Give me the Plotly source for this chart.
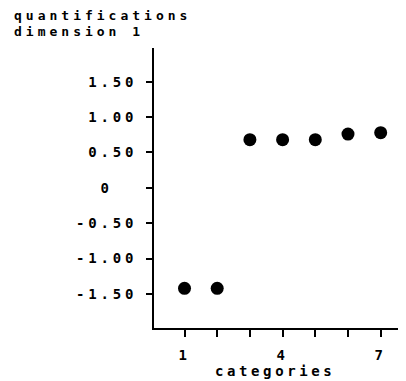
import plotly.graph_objects as go

# ---- data ----
categories = [1, 2, 3, 4, 5, 6, 7]
quantifications = [-1.42, -1.42, 0.68, 0.68, 0.68, 0.76, 0.78]
x_tick_vals = [1, 2, 3, 4, 5, 6, 7]
x_tick_labels = ["1", "", "", "4", "", "", "7"]
y_tick_vals = [1.5, 1.0, 0.5, 0, -0.5, -1.0, -1.5]
y_tick_labels = ["1.50", "1.00", "0.50", "0", "-0.50", "-1.00", "-1.50"]
title_lines = ["quantifications", "dimension 1"]
x_title = "categories"

FONT = "DejaVu Sans Mono"
FSIZE = 14
LS = 3.8  # plotter-style wide letter spacing
NB = "\u00a0"


def spaced(t, ls=LS):
    return f'<span style="letter-spacing:{ls}px">{t}</span>'


def ylab(t):
    # single-character labels are centred in a 5-character field
    if len(t) == 1:
        t = NB * 2 + t + NB * 2
    return spaced(t)


font = dict(family=FONT, size=FSIZE, color="black", weight="bold")
title_font = dict(family=FONT, size=13, color="black", weight="bold")

fig = go.Figure()
fig.add_trace(go.Scatter(
    x=categories, y=quantifications, mode="markers",
    marker=dict(size=13, color="black", line=dict(width=0)),
    showlegend=False, hoverinfo="skip",
))

axis_common = dict(
    showline=True, linecolor="black", linewidth=2,
    ticks="outside", tickwidth=2, tickcolor="black",
    showgrid=False, zeroline=False, tickfont=font,
)

# plot area in page pixels: x 154..406, y 48..328 (page has an 8px body margin)
PL, PT, PW, PH = 154, 48, 252, 280


def px(xp):
    return (xp - PL) / PW


def py(yp):
    return (PT + PH - yp) / PH


fig.update_layout(
    width=398, height=373, autosize=False,
    margin=dict(l=146, r=0, t=40, b=53),
    plot_bgcolor="white", paper_bgcolor="white",
    xaxis=dict(range=[0.067, 7.774], tickmode="array", tickvals=x_tick_vals,
               ticktext=[spaced(t) for t in x_tick_labels], ticklen=7,
               ticklabelstandoff=6, **axis_common),
    yaxis=dict(range=[-1.981, 1.976], tickmode="array", tickvals=y_tick_vals,
               ticktext=[ylab(t) for t in y_tick_labels], ticklen=6,
               ticklabelstandoff=6, **axis_common),
    annotations=[
        dict(text=spaced(title_lines[0], 4.0), xref="paper", yref="paper",
             x=px(12), y=py(16), xanchor="left",
             yanchor="middle", showarrow=False, font=title_font),
        dict(text=spaced(title_lines[1], 4.0), xref="paper", yref="paper",
             x=px(12), y=py(32), xanchor="left",
             yanchor="middle", showarrow=False, font=title_font),
        dict(text=spaced(x_title, 3.6), xref="paper", yref="paper",
             x=px(275), y=py(371), xanchor="center",
             yanchor="middle", showarrow=False, font=font),
    ],
)

fig.write_html("out.html")
